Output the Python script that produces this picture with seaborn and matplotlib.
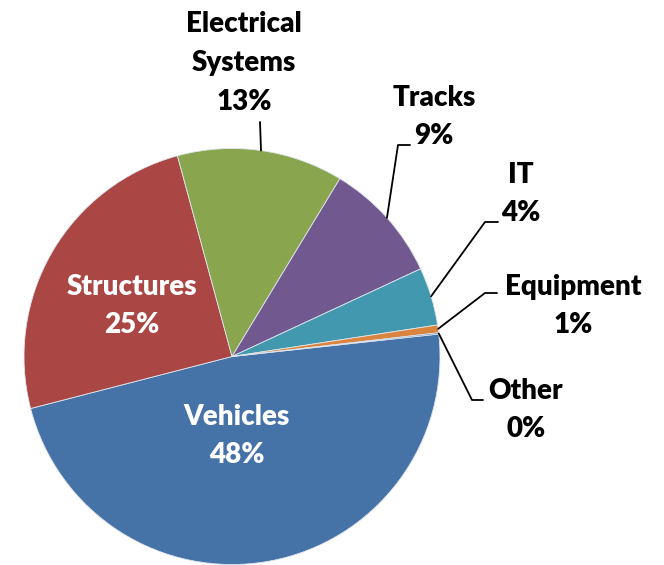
import numpy as np
import matplotlib.pyplot as plt
import seaborn as sns

categories = ["Vehicles", "Structures", "Electrical\nSystems", "Tracks", "IT", "Equipment", "Other"]
shares = [47.7, 24.8, 12.9, 9.4, 4.5, 0.6, 0.1]
colors = ["#4572A7", "#AA4643", "#89A54E", "#71588F", "#4198AF", "#DB843D", "#4572A7"]

sns.set_theme(style="white")
plt.rcParams["font.family"] = ["Lato", "DejaVu Sans"]

W, H = 664, 565
CX, CY, R = 232, 356.5, 208


def px(x, y):
    # pixel position -> data coordinates of the pie axes
    return (x - CX) / R, (CY - y) / R


fig = plt.figure(figsize=(W / 100, H / 100), dpi=100)
ax = fig.add_axes([(CX - R) / W, (H - CY - R) / H, 2 * R / W, 2 * R / H])
wedges, _ = ax.pie(shares, colors=colors, startangle=6.2, counterclock=False,
                   radius=1, wedgeprops=dict(edgecolor="#dfe6ee", linewidth=0.6))
ax.set_xlim(-1, 1)
ax.set_ylim(-1, 1)
ax.set_aspect("equal")
ax.axis("off")

# label layout: block centre, and leader elbow/end (None = inside label)
layout = {
    "Vehicles": ((237, 436), None),
    "Structures": ((132, 306), None),
    "Electrical\nSystems": ((244, 63), [(260, 122)]),
    "Tracks": ((434, 117), [(398, 145), (410, 145)]),
    "IT": ((521, 194), [(485, 222), (498, 222)]),
    "Equipment": ((573, 306), [(485, 293), (497, 293)]),
    "Other": ((526, 410), [(472, 400), (483, 400)]),
}

total = sum(shares)
for w, name, val in zip(wedges, categories, shares):
    (lx, ly), leader = layout[name]
    text = f"{name}\n{val / total * 100:.0f}%"
    inside = leader is None
    ax.text(*px(lx, ly), text, ha="center", va="center", fontsize=20,
            fontweight="heavy", color="white" if inside else "black",
            linespacing=1.6)
    if leader:
        mid = np.deg2rad((w.theta1 + w.theta2) / 2)
        pts = [(np.cos(mid), np.sin(mid))] + [px(*p) for p in leader]
        xs, ys = zip(*pts)
        ax.plot(xs, ys, color="black", lw=1.3, clip_on=False)

fig.savefig("out.png", dpi=100)
